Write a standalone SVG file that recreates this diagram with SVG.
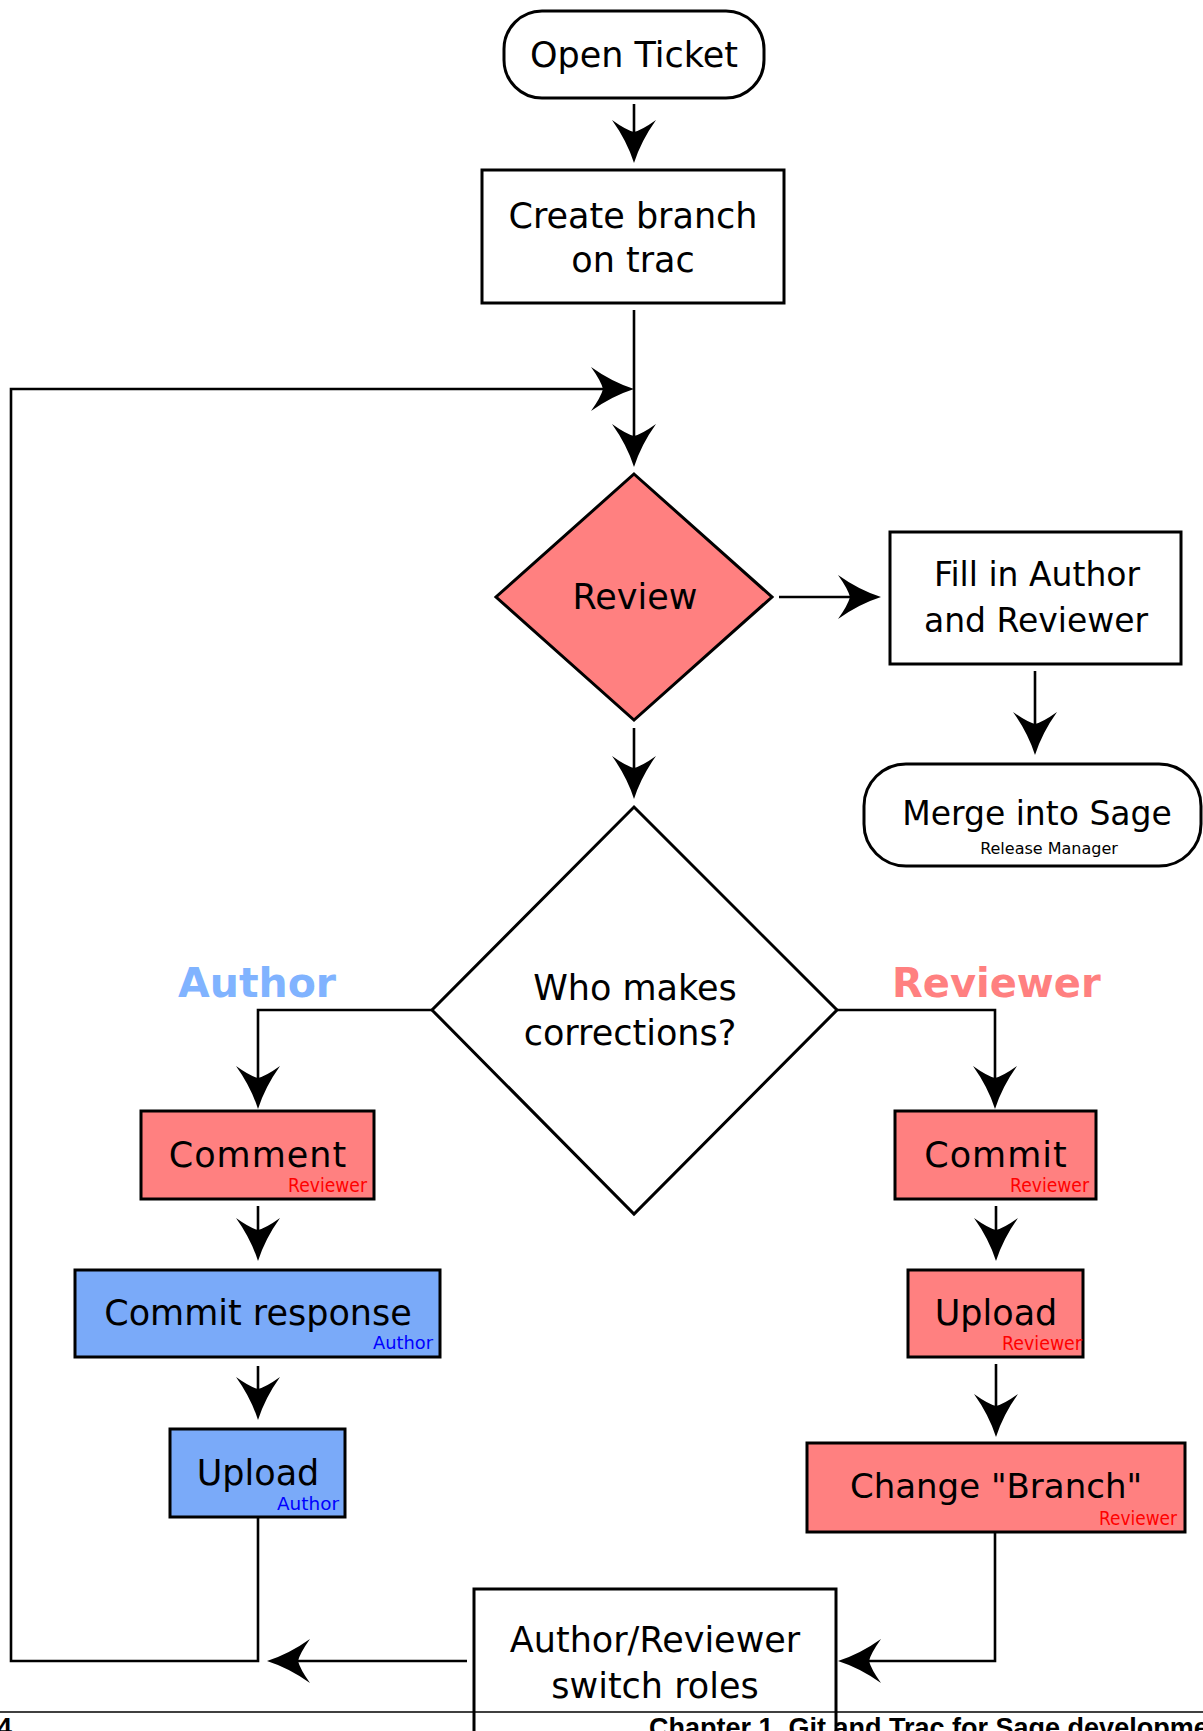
<svg xmlns="http://www.w3.org/2000/svg" width="1203" height="1731" viewBox="0 0 1203 1731">
<style>
.t{font-family:"DejaVu Sans",sans-serif;fill:#000;text-anchor:middle}
.s{font-family:"DejaVu Sans",sans-serif;}
.box{stroke:#000;stroke-width:3}
.w{fill:#fff}
.r{fill:#ff8080}
.b{fill:#7aaaf9}
.c{fill:none;stroke:#000;stroke-width:2.6}
.ft{font-family:"Liberation Sans",Arial,sans-serif;font-weight:bold;font-size:27px;fill:#000}
</style>
<defs>
<marker id="ah" markerUnits="userSpaceOnUse" orient="auto" refX="0" refY="0" markerWidth="10" markerHeight="10" overflow="visible">
<path d="M31,0 Q9,-7 -12,-22 Q-2,-8 0,0 Q-2,8 -12,22 Q9,7 31,0Z" fill="#000"/>
</marker>
</defs>

<g id="connectors">
<path class="c" d="M634,104 V132" marker-end="url(#ah)"/>
<path class="c" d="M634,310 V436" marker-end="url(#ah)"/>
<path class="c" d="M258,1517 V1661 H11 V389 H603" marker-end="url(#ah)" stroke-width="3"/>
<path class="c" d="M779,597 H850" marker-end="url(#ah)"/>
<path class="c" d="M1035,671 V724" marker-end="url(#ah)"/>
<path class="c" d="M634,728 V768" marker-end="url(#ah)"/>
<path class="c" d="M432,1010 H258 V1078" marker-end="url(#ah)"/>
<path class="c" d="M837,1010 H995 V1078" marker-end="url(#ah)"/>
<path class="c" d="M258,1206 V1230" marker-end="url(#ah)"/>
<path class="c" d="M258,1366 V1389" marker-end="url(#ah)"/>
<path class="c" d="M996,1206 V1230" marker-end="url(#ah)"/>
<path class="c" d="M996,1364 V1406" marker-end="url(#ah)"/>
<path class="c" d="M995,1532 V1661 H869" marker-end="url(#ah)" stroke-width="3"/>
<path class="c" d="M467,1661 H298" marker-end="url(#ah)" stroke-width="3.5"/>
</g>

<g id="open-ticket">
<rect class="box w" x="504" y="11" width="260" height="87" rx="38" ry="38"/>
<text class="t" x="634" y="67" font-size="35">Open Ticket</text>
</g>

<g id="create-branch">
<rect class="box w" x="482" y="170" width="302" height="133"/>
<text class="t" x="633" y="228" font-size="35">Create branch</text>
<text class="t" x="633" y="272" font-size="35">on trac</text>
</g>

<g id="review">
<polygon class="box r" points="634,474 772,597 634,720 496,597" stroke-width="2.6"/>
<text class="t" x="635" y="609" font-size="35">Review</text>
</g>

<g id="fill-in">
<rect class="box w" x="890" y="532" width="291" height="132"/>
<text class="t" x="1037" y="586" font-size="33">Fill in Author</text>
<text class="t" x="1036" y="632" font-size="33">and Reviewer</text>
</g>

<g id="merge">
<rect class="box w" x="864" y="764" width="337" height="102" rx="42" ry="42"/>
<text class="t" x="1037" y="825" font-size="33">Merge into Sage</text>
<text class="t" x="1049" y="854" font-size="16">Release Manager</text>
</g>

<g id="who">
<polygon class="box w" points="634,807 837,1010 634,1214 432,1010" stroke-width="2.6"/>
<text class="t" x="635" y="1000" font-size="35">Who makes</text>
<text class="t" x="630" y="1045" font-size="35">corrections?</text>
</g>

<g id="labels">
<text class="s" x="178" y="997" font-size="41" font-weight="bold" fill="#80b3ff">Author</text>
<text class="s" x="892" y="997" font-size="40" font-weight="bold" fill="#ff8080">Reviewer</text>
</g>

<g id="comment">
<rect class="box r" x="141" y="1111" width="233" height="88"/>
<text class="t" x="258" y="1167" font-size="35" letter-spacing="1">Comment</text>
<text class="s" x="288" y="1192" font-size="19" fill="#ff0000" textLength="79" lengthAdjust="spacingAndGlyphs">Reviewer</text>
</g>

<g id="commit-response">
<rect class="box b" x="75" y="1270" width="365" height="87"/>
<text class="t" x="258" y="1325" font-size="35">Commit response</text>
<text class="s" x="373" y="1349" font-size="18" fill="#0000ff" textLength="60" lengthAdjust="spacingAndGlyphs">Author</text>
</g>

<g id="upload-author">
<rect class="box b" x="170" y="1429" width="175" height="88"/>
<text class="t" x="258" y="1485" font-size="35">Upload</text>
<text class="s" x="277" y="1510" font-size="18" fill="#0000ff" textLength="62" lengthAdjust="spacingAndGlyphs">Author</text>
</g>

<g id="commit">
<rect class="box r" x="895" y="1111" width="201" height="88"/>
<text class="t" x="996" y="1167" font-size="35" letter-spacing="1">Commit</text>
<text class="s" x="1010" y="1192" font-size="19" fill="#ff0000" textLength="79" lengthAdjust="spacingAndGlyphs">Reviewer</text>
</g>

<g id="upload-reviewer">
<rect class="box r" x="908" y="1270" width="175" height="87"/>
<text class="t" x="996" y="1325" font-size="35">Upload</text>
<text class="s" x="1002" y="1350" font-size="19" fill="#ff0000" textLength="80" lengthAdjust="spacingAndGlyphs">Reviewer</text>
</g>

<g id="change-branch">
<rect class="box r" x="807" y="1443" width="378" height="89"/>
<text class="t" x="996" y="1498" font-size="34">Change "Branch"</text>
<text class="s" x="1099" y="1525" font-size="19" fill="#ff0000" textLength="78" lengthAdjust="spacingAndGlyphs">Reviewer</text>
</g>

<g id="switch-roles">
<rect class="box w" x="474" y="1589" width="362" height="160"/>
<text class="t" x="655" y="1652" font-size="35">Author/Reviewer</text>
<text class="t" x="655" y="1698" font-size="35">switch roles</text>
</g>

<g id="footer">
<line x1="0" y1="1712" x2="1203" y2="1712" stroke="#000" stroke-width="1.5"/>
<text class="ft" x="-3" y="1737">4</text>
<text class="ft" x="649" y="1737">Chapter 1. Git and Trac for Sage development</text>
</g>
</svg>
